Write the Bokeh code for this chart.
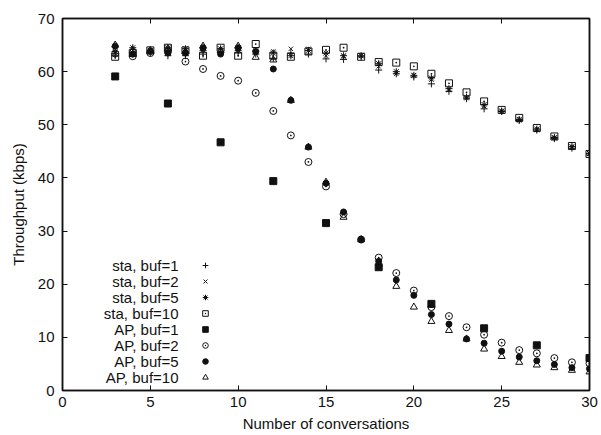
from bokeh.plotting import figure
from bokeh.models import (LinearAxis, FixedTicker, CustomJSTickFormatter, Range1d,
                          Legend, LegendItem, Label)
from bokeh.core.properties import value
from bokeh.embed import file_html
from bokeh.resources import INLINE

# ---------------- data ----------------
conversations = list(range(3, 31))
ap1_conversations = list(range(3, 31, 3))

sta_buf1 = [63.0, 63.3, 63.5, 63.0, 63.0, 63.3, 63.5, 63.5, 63.3, 62.5, 63.5, 63.3, 62.4, 62.3,
            62.8, 60.3, 59.6, 59.0, 57.7, 56.3, 54.9, 53.0, 52.5, 50.8, 49.0, 47.4, 45.6, 44.3]
sta_buf2 = [63.5, 64.0, 64.0, 64.3, 64.0, 64.0, 64.0, 64.0, 63.5, 63.8, 64.3, 64.3, 63.0, 62.8,
            63.0, 61.0, 59.6, 59.3, 58.5, 56.5, 55.0, 53.5, 52.5, 50.8, 49.0, 47.5, 45.8, 44.5]
sta_buf5 = [63.8, 64.5, 64.0, 64.5, 64.3, 64.0, 64.3, 64.0, 63.9, 63.5, 63.0, 64.0, 63.5, 63.0,
            63.0, 61.5, 60.0, 59.3, 58.8, 56.8, 55.2, 53.8, 52.6, 51.0, 49.2, 47.6, 45.9, 44.6]
sta_buf10 = [62.8, 63.5, 64.0, 64.5, 64.0, 63.0, 64.5, 63.0, 65.2, 63.0, 62.8, 63.8, 64.1, 64.5,
             62.8, 61.8, 61.7, 61.0, 59.6, 57.8, 56.1, 54.4, 52.8, 51.3, 49.4, 47.8, 46.0, 44.5]
ap_buf1 = [59.1, 54.0, 46.7, 39.4, 31.5, 23.2, 16.3, 11.7, 8.5, 6.1]
ap_buf2 = [63.4, 62.9, 63.5, 63.8, 61.9, 60.5, 59.2, 58.3, 56.0, 52.6, 48.0, 43.0, 38.4, 33.2,
           28.4, 25.0, 22.1, 18.8, 15.7, 14.0, 11.9, 10.5, 9.0, 7.6, 7.0, 6.1, 5.3, 5.1]
ap_buf5 = [64.8, 63.3, 63.8, 63.5, 63.5, 64.5, 63.3, 64.5, 63.8, 60.5, 54.6, 45.8, 39.0, 33.6,
           28.4, 24.3, 20.8, 17.9, 14.3, 12.5, 9.7, 8.9, 7.4, 6.3, 5.6, 4.9, 4.3, 4.1]
ap_buf10 = [65.0, 64.0, 64.0, 64.3, 63.8, 64.8, 64.0, 64.8, 62.7, 62.2, 54.6, 45.8, 39.2, 32.6,
            28.4, 23.8, 19.6, 15.7, 13.0, 11.3, 9.7, 7.8, 6.4, 5.3, 4.8, 4.3, 3.8, 3.5]

series_names = ["sta, buf=1", "sta, buf=2", "sta, buf=5", "sta, buf=10",
                "AP, buf=1", "AP, buf=2", "AP, buf=5", "AP, buf=10"]
x_ticks = [0, 5, 10, 15, 20, 25, 30]
y_ticks = [0, 10, 20, 30, 40, 50, 60, 70]

# ---------------- styling ----------------
FONT = "Liberation Sans"
INK = "#111111"

p = figure(width=601, height=435, output_backend="svg", toolbar_location=None,
           x_range=Range1d(0, 30), y_range=Range1d(0, 70),
           min_border_left=62, min_border_right=12, min_border_top=18, min_border_bottom=45)
p.xgrid.visible = False
p.ygrid.visible = False
p.outline_line_color = INK
p.outline_line_width = 1.5
p.background_fill_color = "white"
p.border_fill_color = "white"

for ax in (p.xaxis[0], p.yaxis[0]):
    ax.major_tick_in = 5
    ax.major_tick_out = 0
    ax.minor_tick_in = 0
    ax.minor_tick_out = 0
    ax.axis_line_color = INK
    ax.axis_line_width = 1.5
    ax.major_tick_line_color = INK
    ax.major_label_text_font = FONT
    ax.major_label_text_font_size = "15px"
    ax.major_label_text_color = INK
    ax.axis_label_text_font = FONT
    ax.axis_label_text_font_size = "15px"
    ax.axis_label_text_font_style = "normal"
    ax.axis_label_text_color = INK

p.xaxis[0].ticker = FixedTicker(ticks=x_ticks)
p.yaxis[0].ticker = FixedTicker(ticks=y_ticks)
p.xaxis[0].axis_label = "Number of conversations"
p.yaxis[0].axis_label = "Throughput (kbps)"
p.xaxis[0].major_label_standoff = 6
p.xaxis[0].axis_label_standoff = 5
p.yaxis[0].major_label_standoff = 8
p.yaxis[0].axis_label_standoff = 8

# mirrored tick marks on top and right
blank = CustomJSTickFormatter(code="return ''")
top = LinearAxis(ticker=FixedTicker(ticks=x_ticks), formatter=blank)
right = LinearAxis(ticker=FixedTicker(ticks=y_ticks), formatter=blank)
for ax in (top, right):
    ax.major_tick_in = 5
    ax.major_tick_out = 0
    ax.minor_tick_in = 0
    ax.minor_tick_out = 0
    ax.axis_line_color = INK
    ax.axis_line_width = 1.5
    ax.major_tick_line_color = INK
    ax.major_label_standoff = 0
    ax.major_label_text_font_size = "0px"
p.add_layout(top, "above")
p.add_layout(right, "right")

# ---------------- series ----------------
specs = [
    (conversations, sta_buf1, "cross", 7, None),
    (conversations, sta_buf2, "x", 6, None),
    (conversations, sta_buf5, "asterisk", 7, None),
    (conversations, sta_buf10, "square_dot", 7, None),
    (ap1_conversations, ap_buf1, "square", 7, INK),
    (conversations, ap_buf2, "circle_dot", 7, None),
    (conversations, ap_buf5, "circle", 6, INK),
    (conversations, ap_buf10, "triangle", 7, None),
]
renderers = []
for xs, ys, marker, size, fill in specs:
    r = p.scatter(xs, ys, marker=marker, size=size, line_color=INK, line_width=1,
                  fill_color=fill)
    renderers.append(r)

# ---------------- legend: glyphs on the right, labels right-aligned on the left ----
row_h, gap = 14, 2
legend = Legend(items=[LegendItem(label=value(""), renderers=[r]) for r in renderers],
                location=(136, 6), orientation="vertical",
                glyph_width=14, glyph_height=row_h, label_height=row_h, label_width=0,
                label_standoff=0, spacing=gap, padding=0, margin=0,
                label_text_font_size="1px",
                border_line_color=None, background_fill_alpha=0)
p.add_layout(legend, "center")

n = len(series_names)
for i, name in enumerate(series_names):
    yc = 6 + row_h / 2 + (row_h + gap) * (n - 1 - i)
    p.add_layout(Label(x=116, y=yc, x_units="screen", y_units="screen", text=name,
                       text_align="right", text_baseline="middle",
                       text_font=FONT, text_font_size="15px", text_color=INK))

open("out.html", "w").write(file_html(p, INLINE))
